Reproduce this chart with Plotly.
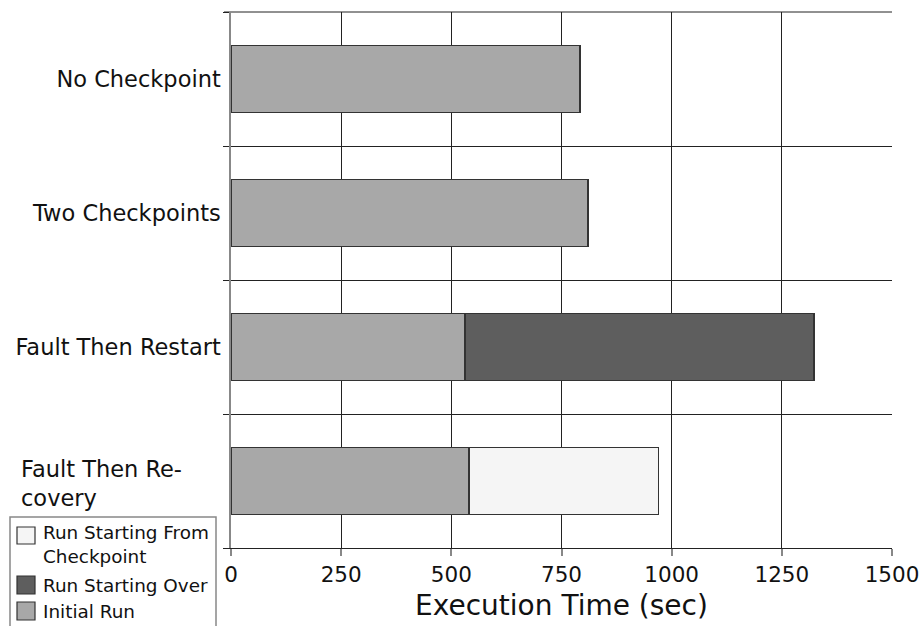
import plotly.graph_objects as go

# Execution time breakdown per scenario (seconds)
categories = ["No Checkpoint", "Two Checkpoints", "Fault Then Restart", "Fault Then Recovery"]
tick_labels = ["No Checkpoint", "Two Checkpoints", "Fault Then Restart", ""]
initial_run = [792, 810, 531, 540]
run_starting_over = [None, None, 792, None]
run_from_checkpoint = [None, None, None, 430]
x_ticks = [0, 250, 500, 750, 1000, 1250, 1500]

series_names = ["Initial Run", "Run Starting Over", "Run Starting From<br>Checkpoint"]
series_colors = ["#a8a8a8", "#5e5e5e", "#f5f5f5"]

FONT = "DejaVu Sans"
TEXT = "#111111"
EDGE = dict(color="#333333", width=1.2)

W, H = 922, 626
ML, MR, MT, MB = 231, 30, 12, 78
PW, PH = W - ML - MR, H - MT - MB


def px_x(px):
    """Pixel column -> paper x."""
    return (px - ML) / PW


def px_y(py):
    """Pixel row -> paper y."""
    return (H - MB - py) / PH


fig = go.Figure()
for vals, name, color in zip([initial_run, run_starting_over, run_from_checkpoint],
                             series_names, series_colors):
    fig.add_trace(go.Bar(y=categories, x=vals, orientation="h", name=name,
                         marker=dict(color=color, line=EDGE), width=0.5,
                         showlegend=False))

fig.update_layout(
    width=W, height=H,
    margin=dict(l=ML, r=MR, t=MT, b=MB, autoexpand=False),
    barmode="stack",
    plot_bgcolor="white", paper_bgcolor="white",
    font=dict(family=FONT, color=TEXT),
    xaxis=dict(
        range=[0, 1500], tickmode="array", tickvals=x_ticks,
        showgrid=True, gridcolor="#222222", gridwidth=1,
        zeroline=False, showline=True, linecolor="#222222", linewidth=1,
        ticks="outside", ticklen=7, tickcolor="#888888", tickwidth=1.5,
        tickfont=dict(size=21.5, family=FONT, color=TEXT),
        title=dict(text="Execution Time (sec)", font=dict(size=28, family=FONT, color=TEXT),
                   standoff=9),
    ),
    yaxis=dict(
        type="category", autorange="reversed",
        tickmode="array", tickvals=categories, ticktext=tick_labels,
        tickson="boundaries",
        showgrid=True, gridcolor="#222222", gridwidth=1,
        showline=True, linecolor="#888888", linewidth=1.5,
        ticks="outside", ticklen=6, tickcolor="#222222", tickwidth=1,
        ticklabelstandoff=4,
        tickfont=dict(size=22.5, family=FONT, color=TEXT),
    ),
)

# top frame line with its boundary tick
fig.add_shape(type="line", xref="paper", yref="paper",
              x0=px_x(224), x1=1, y0=1, y1=1,
              line=dict(color="#222222", width=1), layer="below")

# two-line category label, left aligned
fig.add_annotation(
    text="Fault Then Re-<br>covery", xref="paper", yref="y",
    x=px_x(19), y=categories[3], xanchor="left", yanchor="middle",
    align="left", showarrow=False, yshift=-2,
    font=dict(size=22.5, family=FONT, color=TEXT),
)

# legend box in the lower-left corner
fig.add_shape(type="rect", xref="paper", yref="paper",
              x0=px_x(10), x1=px_x(216), y0=px_y(640), y1=px_y(517),
              line=dict(color="#888888", width=1.5), fillcolor="white", layer="above")

legend_rows = [  # (series index, swatch top, swatch bottom, text centre)
    (2, 527, 544, 544),
    (1, 576, 594, 585),
    (0, 602, 620, 611),
]
for idx, top, bot, ty in legend_rows:
    fig.add_shape(type="rect", xref="paper", yref="paper",
                  x0=px_x(17), x1=px_x(35), y0=px_y(bot), y1=px_y(top),
                  line=dict(color="#333333", width=1.2),
                  fillcolor=series_colors[idx], layer="above")
    fig.add_annotation(
        text=series_names[idx], xref="paper", yref="paper",
        x=px_x(41), y=px_y(ty), xanchor="left", yanchor="middle",
        align="left", showarrow=False,
        font=dict(size=18.4, family=FONT, color=TEXT),
    )

fig.write_html("out.html")
